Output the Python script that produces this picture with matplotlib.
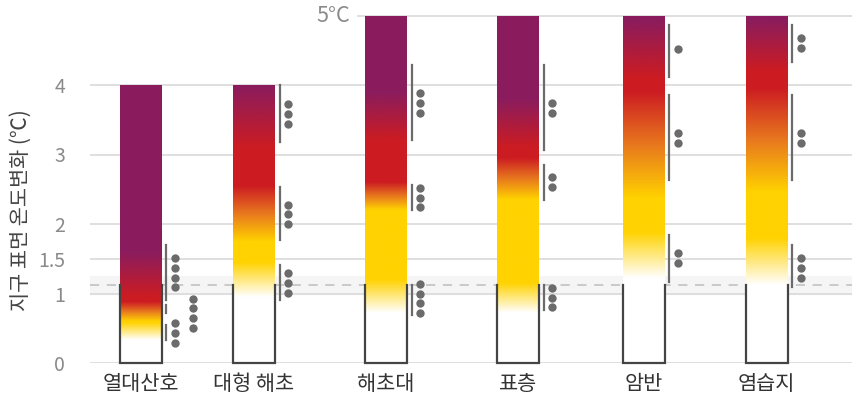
import numpy as np
import matplotlib.pyplot as plt
from matplotlib.colors import to_rgb

plt.rcParams['font.family'] = ['Noto Sans CJK KR', 'DejaVu Sans']

# ---- data ----
categories = ['열대산호', '대형 해초', '해초대', '표층', '암반', '염습지']
bar_tops = [4, 4, 5, 5, 5, 5]
observed = 1.12           # top of the outlined part of each bar
band = (1.0, 1.25)        # grey band round the dashed line
yticks = [0, 1, 1.5, 2, 3, 4]
ytick_labels = ['0', '1', '1.5', '2', '3', '4']

# ember transitions (start, end) for each bar
white_to_yellow = [(0.33, 0.58), (0.95, 1.45), (0.72, 1.20), (0.72, 1.15), (1.22, 1.88), (1.12, 1.80)]
yellow_to_red = [(0.60, 0.88), (1.75, 2.55), (2.20, 2.60), (2.35, 2.95), (2.37, 3.90), (2.46, 3.95)]
red_to_purple = [(0.95, 1.60), (3.10, 4.00), (3.20, 3.90), (3.10, 3.80), (4.10, 4.95), (4.20, 4.95)]

# confidence lines: (low, high, number of dots, dot centre, dot column)
confidence = [
    [(0.91, 1.70, 4, 1.30, 0), (0.72, 0.83, 4, 0.715, 1), (0.33, 0.55, 3, 0.43, 0)],
    [(3.18, 4.00, 3, 3.58, 0), (1.77, 2.53, 3, 2.14, 0), (0.91, 1.41, 3, 1.15, 0)],
    [(3.21, 4.29, 3, 3.74, 0), (2.20, 2.56, 3, 2.38, 0), (0.69, 1.12, 4, 0.93, 0)],
    [(3.06, 4.29, 2, 3.67, 0), (2.35, 2.85, 2, 2.60, 0), (0.76, 1.12, 3, 0.94, 0)],
    [(4.12, 4.86, 1, 4.52, 0), (2.63, 3.86, 2, 3.24, 0), (1.17, 1.84, 2, 1.51, 0)],
    [(4.33, 4.86, 2, 4.60, 0), (2.63, 3.86, 2, 3.24, 0), (1.09, 1.70, 3, 1.37, 0)],
]

# ---- layout / style ----
xpos = [0.505, 1.64, 2.96, 4.28, 5.535, 6.765]
width = 0.42
white, yellow, orange = to_rgb('#ffffff'), to_rgb('#ffd200'), to_rgb('#e8781e')
red, purple = to_rgb('#cc1c22'), to_rgb('#8a1c5e')
grey = '#6b6b6b'

fig = plt.figure(figsize=(8.56, 4.01), dpi=100)
ax = fig.add_axes([90/856, 38/401, 762/856, 347.5/401])
ax.set_xlim(0, 7.62)
ax.set_ylim(0, 5)

# grid and observed warming band
ax.axhspan(band[0], band[1], color='#f5f5f5', zorder=0)
ax.hlines(yticks, 0, 7.62, color='#dcdcdc', lw=1.3, zorder=1)
ax.hlines(5, 2.67, 7.62, color='#dcdcdc', lw=1.3, zorder=1, clip_on=False)
ax.axhline((band[0] + band[1]) / 2, color='#bdbdbd', lw=1.1, ls=(0, (6, 5)), zorder=1)

for i, x in enumerate(xpos):
    top = bar_tops[i]
    wy, yr, rp = white_to_yellow[i], yellow_to_red[i], red_to_purple[i]
    stops = [(0, white), (wy[0], white), (wy[1], yellow), (yr[0], yellow),
             ((yr[0] + yr[1]) / 2, orange), (yr[1], red), (rp[0], red),
             (rp[1], purple), (max(top, rp[1]), purple)]
    t = np.linspace(0, top, 600)
    sv = [s[0] for s in stops]
    rgb = np.stack([np.interp(t, sv, [s[1][k] for s in stops]) for k in range(3)], axis=-1)
    img = rgb[:, None, :]
    ax.imshow(img, extent=[x - width/2, x + width/2, 0, top], origin='lower',
              aspect='auto', zorder=2, interpolation='bilinear')

    # outline of the lower part
    ax.plot([x - width/2, x - width/2, x + width/2, x + width/2],
            [observed, 0, 0, observed], color='#444444', lw=1.6, zorder=3,
            clip_on=False, solid_joinstyle='miter')

    # confidence lines and dots
    for lo, hi, n, mid, col in confidence[i]:
        lx = x + width/2 + 0.045
        ax.plot([lx, lx], [lo, hi], color=grey, lw=1.6, zorder=3, clip_on=False)
        dx = x + width/2 + 0.13 + col * 0.18
        dy = mid + (np.arange(n) - (n - 1) / 2) * 0.14
        ax.plot([dx] * n, dy, 'o', color=grey, ms=6, mec='none', zorder=3, clip_on=False)

ax.text(2.6, 5, '5°C', ha='right', va='center', fontsize=15.5, color='#8a8a8a')

ax.set_yticks(yticks)
ax.set_yticklabels(ytick_labels, fontsize=14, color='#8a8a8a')
ax.set_xticks(xpos)
ax.set_xticklabels(categories, fontsize=15, color='#333333')
ax.tick_params(axis='y', length=0, pad=18)
ax.tick_params(axis='x', length=0, pad=7)
for s in ax.spines.values():
    s.set_visible(False)

fig.text(0.0245, 0.475, '지구 표면 온도변화 (℃)', rotation=90, ha='center', va='center',
         fontsize=15, color='#444444')

fig.savefig('out.png', dpi=100)
